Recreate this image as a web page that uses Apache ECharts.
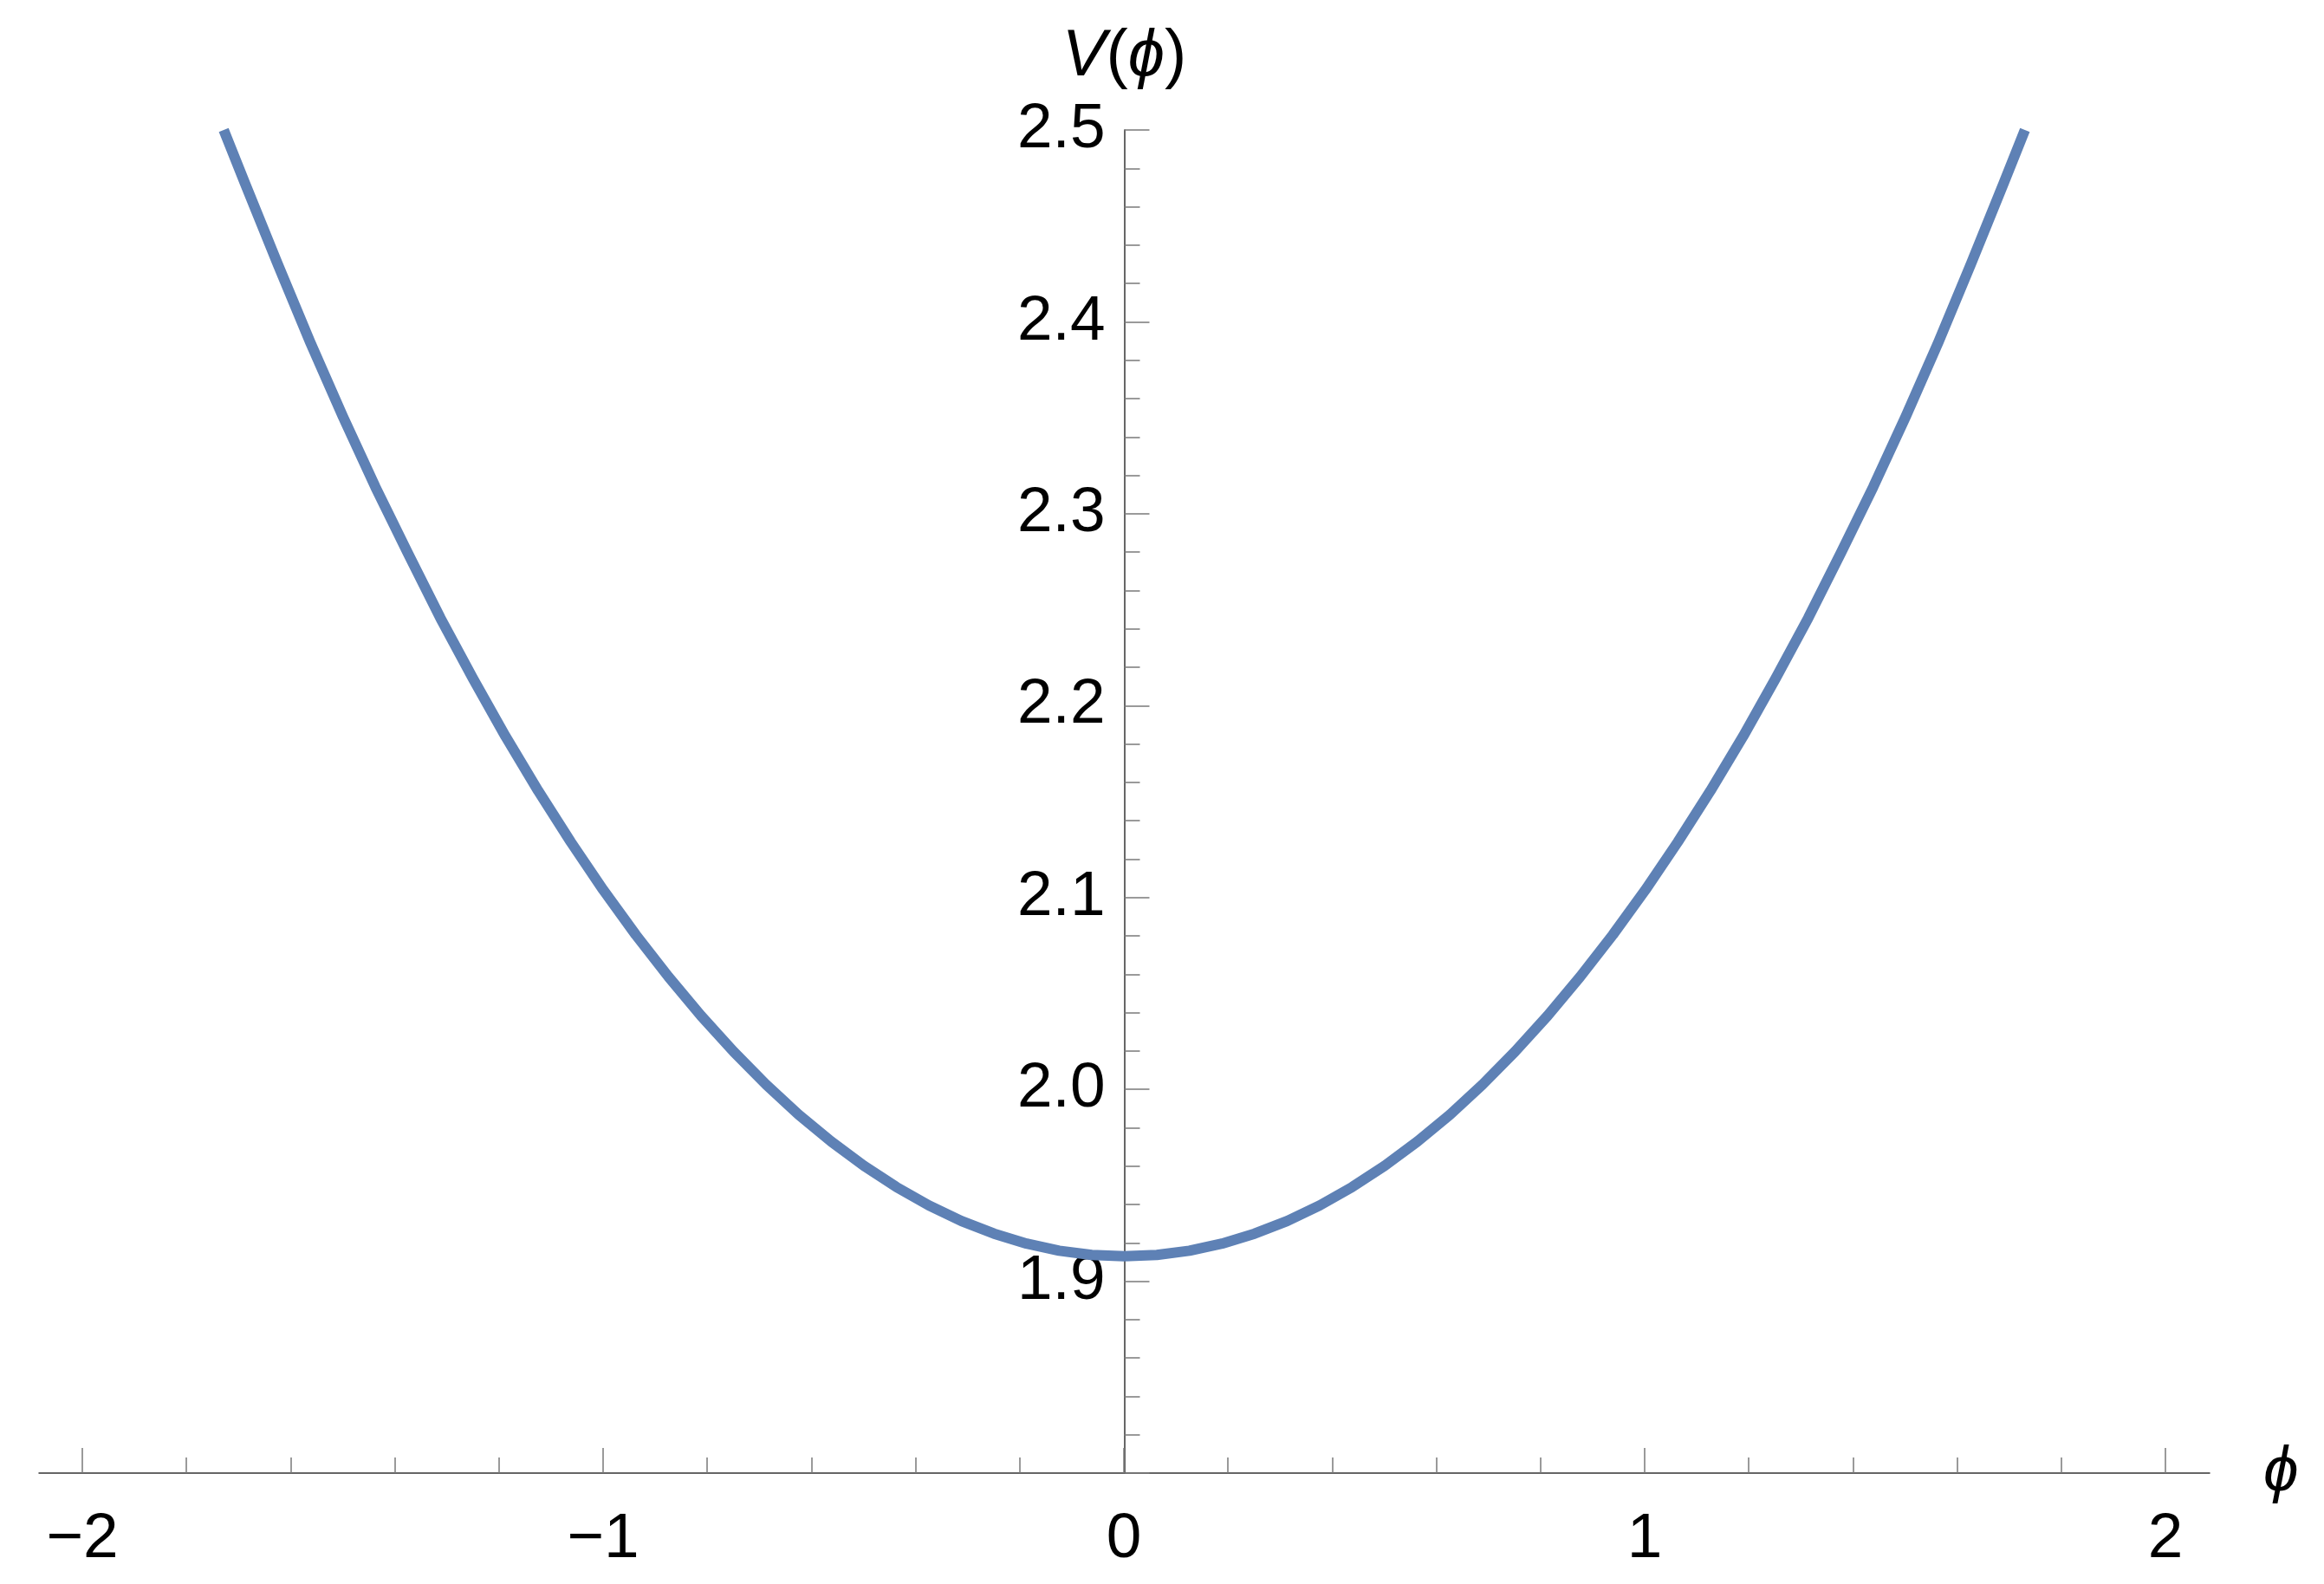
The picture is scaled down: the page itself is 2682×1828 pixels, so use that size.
<!DOCTYPE html>
<html>
<head>
<meta charset="utf-8">
<script src="https://cdn.jsdelivr.net/npm/echarts@6/dist/echarts.min.js"></script>
<style>
html,body{margin:0;padding:0;background:#fff;}
#chart{width:2682px;height:1828px;}
</style>
</head>
<body>
<div id="chart"></div>
<script>
// phi values (x) and potential V(phi)
const phiValues = [-1.7285, -1.6875, -1.625, -1.5625, -1.5, -1.4375, -1.375, -1.3125, -1.25, -1.1875, -1.125, -1.0625,
                   -1, -0.9375, -0.875, -0.8125, -0.75, -0.6875, -0.625, -0.5625, -0.5, -0.4375, -0.375, -0.3125,
                   -0.25, -0.1875, -0.125, -0.0625, 0,
                   0.0625, 0.125, 0.1875, 0.25, 0.3125, 0.375, 0.4375, 0.5, 0.5625, 0.625, 0.6875, 0.75, 0.8125,
                   0.875, 0.9375, 1, 1.0625, 1.125, 1.1875, 1.25, 1.3125, 1.375, 1.4375, 1.5, 1.5625, 1.625, 1.6875, 1.7285];
const vValues = [2.5000, 2.4721, 2.4302, 2.3894, 2.3508, 2.3140, 2.2794, 2.2456, 2.2141, 2.1839, 2.1556, 2.1290,
                 2.1039, 2.0805, 2.0587, 2.0384, 2.0197, 2.0025, 1.9868, 1.9728, 1.9602, 1.9491, 1.9395, 1.9314,
                 1.9248, 1.9196, 1.9159, 1.9137, 1.9130,
                 1.9137, 1.9159, 1.9196, 1.9248, 1.9314, 1.9395, 1.9491, 1.9602, 1.9728, 1.9868, 2.0025, 2.0197, 2.0384,
                 2.0587, 2.0805, 2.1039, 2.1290, 2.1556, 2.1839, 2.2141, 2.2456, 2.2794, 2.3140, 2.3508, 2.3894, 2.4302, 2.4721, 2.5000];
const xTickValues = [-2, -1, 0, 1, 2];
const yTickValues = [1.9, 2.0, 2.1, 2.2, 2.3, 2.4, 2.5];
const xAxisTitle = 'ϕ';
const yAxisTitle = ['V', '(', 'ϕ', ')'];

const FONT = "'Liberation Sans', Arial, 'DejaVu Sans', sans-serif";
const FS = 73;
const AXIS_COLOR = '#333';
const TICK_COLOR = '#7a7a7a';
const data = phiValues.map((x, i) => [x, vValues[i]]);

const GRID_A = {left: 45, right: 132, top: 150, bottom: 128};
const X_MIN = -2.083, X_MAX = 2.083;
// offset that brings the left y axis to phi = 0
const plotW = 2682 - GRID_A.left - GRID_A.right;
const yOffset = -plotW * (0 - X_MIN) / (X_MAX - X_MIN);

const chart = echarts.init(document.getElementById('chart'));
chart.setOption({
  backgroundColor: '#fff',
  animation: false,
  grid: [
    Object.assign({outerBoundsMode: 'none', containLabel: false}, GRID_A),
    {left: 95, right: 183, top: 150, bottom: 128, outerBoundsMode: 'none', containLabel: false}
  ],
  xAxis: [
    {
      type: 'value', gridIndex: 0, min: X_MIN, max: X_MAX,
      axisLine: {show: true, onZero: false, lineStyle: {color: AXIS_COLOR, width: 1.5}},
      axisTick: {show: false}, minorTick: {show: false},
      axisLabel: {show: false}, splitLine: {show: false},
      name: xAxisTitle, nameLocation: 'end', nameGap: 62,
      nameTextStyle: {fontFamily: FONT, fontSize: FS, fontStyle: 'italic', color: '#000', padding: [10, 0, 0, 0]}
    },
    {
      type: 'value', gridIndex: 1, min: -2, max: 2, interval: 1,
      axisLine: {show: false, onZero: false},
      axisTick: {show: true, inside: true, length: 29, lineStyle: {color: TICK_COLOR, width: 1.5}},
      minorTick: {show: true, splitNumber: 5, length: 18, lineStyle: {color: TICK_COLOR, width: 1.5}},
      axisLabel: {
        show: true, margin: 40, fontFamily: FONT, fontSize: FS, color: '#000',
        formatter: v => xTickValues.includes(v) ? String(v).replace('-', '\u2212') : ''
      },
      splitLine: {show: false}
    }
  ],
  yAxis: [
    {
      type: 'value', gridIndex: 0, min: 1.8, max: 2.5, interval: 0.1,
      position: 'left', offset: yOffset,
      axisLine: {show: true, onZero: false, lineStyle: {color: AXIS_COLOR, width: 1.5}},
      axisTick: {show: true, inside: true, length: 29, lineStyle: {color: TICK_COLOR, width: 1.5}},
      minorTick: {show: true, splitNumber: 5, length: 18, lineStyle: {color: TICK_COLOR, width: 1.5}},
      axisLabel: {
        show: true, margin: 22, fontFamily: FONT, fontSize: FS, color: '#000',
        showMinLabel: false,
        formatter: v => {
          const r = Math.round(v * 10) / 10;
          return yTickValues.some(t => Math.abs(t - r) < 1e-9) ? r.toFixed(1) : '';
        }
      },
      splitLine: {show: false},
      name: '{it|' + yAxisTitle[0] + '}{n|' + yAxisTitle[1] + '}{it|' + yAxisTitle[2] + '}{n|' + yAxisTitle[3] + '}',
      nameLocation: 'end', nameGap: 46,
      nameTextStyle: {
        fontFamily: FONT, fontSize: 76, color: '#000',
        rich: {
          it: {fontFamily: FONT, fontSize: 76, fontStyle: 'italic', color: '#000'},
          n: {fontFamily: FONT, fontSize: 76, color: '#000'}
        }
      }
    },
    {
      type: 'value', gridIndex: 1, min: 1.8, max: 2.5, show: false
    }
  ],
  series: [
    {
      type: 'line', xAxisIndex: 0, yAxisIndex: 0,
      data: data, showSymbol: false, smooth: false,
      lineStyle: {color: '#5E81B5', width: 12, cap: 'butt', join: 'round'},
      clip: true
    }
  ]
});
</script>
</body>
</html>
